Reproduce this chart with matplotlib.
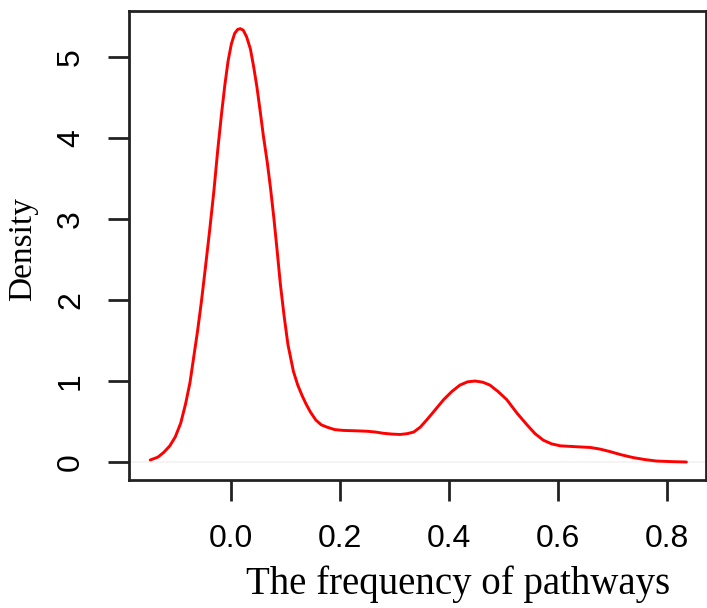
import numpy as np
import matplotlib
matplotlib.use('Agg')
import matplotlib.pyplot as plt

# curve, (frequency, density)
freq = [-0.149, -0.135, -0.124, -0.113, -0.103, -0.093, -0.084, -0.076,
        -0.069, -0.062, -0.055, -0.048, -0.040, -0.032, -0.025, -0.018,
        -0.012, -0.006, 0.000, 0.006, 0.0115, 0.0165, 0.022, 0.028,
        0.035, 0.041, 0.047, 0.053, 0.059, 0.066, 0.072, 0.078,
        0.084, 0.090, 0.097, 0.104, 0.114, 0.122, 0.130, 0.137,
        0.145, 0.155, 0.165, 0.176, 0.190, 0.206, 0.230, 0.249,
        0.265, 0.279, 0.295, 0.310, 0.323, 0.335, 0.347, 0.359,
        0.374, 0.390, 0.405, 0.420, 0.434, 0.448, 0.462, 0.475,
        0.490, 0.506, 0.524, 0.543, 0.558, 0.573, 0.588, 0.604,
        0.630, 0.659, 0.677, 0.695, 0.716, 0.738, 0.760, 0.781,
        0.808, 0.836]
dens = [0.025, 0.06, 0.12, 0.20, 0.31, 0.48, 0.72, 0.98,
        1.30, 1.62, 1.98, 2.38, 2.85, 3.35, 3.85, 4.30,
        4.65, 4.95, 5.16, 5.29, 5.34, 5.35, 5.33, 5.25,
        5.10, 4.88, 4.63, 4.33, 4.02, 3.70, 3.38, 3.02,
        2.62, 2.20, 1.80, 1.45, 1.12, 0.95, 0.82, 0.72,
        0.62, 0.52, 0.46, 0.43, 0.40, 0.39, 0.385, 0.38,
        0.37, 0.355, 0.345, 0.34, 0.35, 0.37, 0.43, 0.52,
        0.64, 0.77, 0.87, 0.95, 0.99, 1.00, 0.985, 0.95,
        0.87, 0.77, 0.61, 0.46, 0.35, 0.27, 0.225, 0.20,
        0.19, 0.18, 0.16, 0.13, 0.09, 0.055, 0.03, 0.012,
        0.005, 0.00]

xticks = [0.0, 0.2, 0.4, 0.6, 0.8]
yticks = [0, 1, 2, 3, 4, 5]

fig = plt.figure(figsize=(7.07, 6.08), dpi=100)
ax = fig.add_axes([129 / 707, 1 - 480 / 608, 577 / 707, 469 / 608])

ax.axhline(0, color='#f2f2f2', lw=1.2, zorder=1)
ax.plot(freq, dens, color='#ff0000', lw=2.1, zorder=3,
        solid_joinstyle='round', solid_capstyle='round')

ax.set_xlim(-0.188, 0.872)
ax.set_ylim(-0.222, 5.568)
ax.set_xticks(xticks)
ax.set_xticklabels([f'{t:.1f}' for t in xticks])
ax.set_yticks(yticks)
ax.set_yticklabels([str(t) for t in yticks], rotation=90, va='center')

for lab in ax.get_xticklabels() + ax.get_yticklabels():
    lab.set_fontfamily('Liberation Sans')
    lab.set_fontsize(23)
ax.tick_params(length=15, width=2, direction='out', color='#222222')
ax.tick_params(axis='x', pad=17)
ax.tick_params(axis='y', pad=16)

for sp in ax.spines.values():
    sp.set_linewidth(2)
    sp.set_color('#222222')

fig.text(458 / 707, 1 - 584 / 608, 'The frequency of pathways',
         family='Liberation Serif', fontsize=28, ha='center', va='center')
fig.text(23 / 707, 1 - 249 / 608, 'Density', family='Liberation Serif',
         fontsize=24, rotation=90, ha='center', va='center')

fig.savefig('out.png', dpi=100)
